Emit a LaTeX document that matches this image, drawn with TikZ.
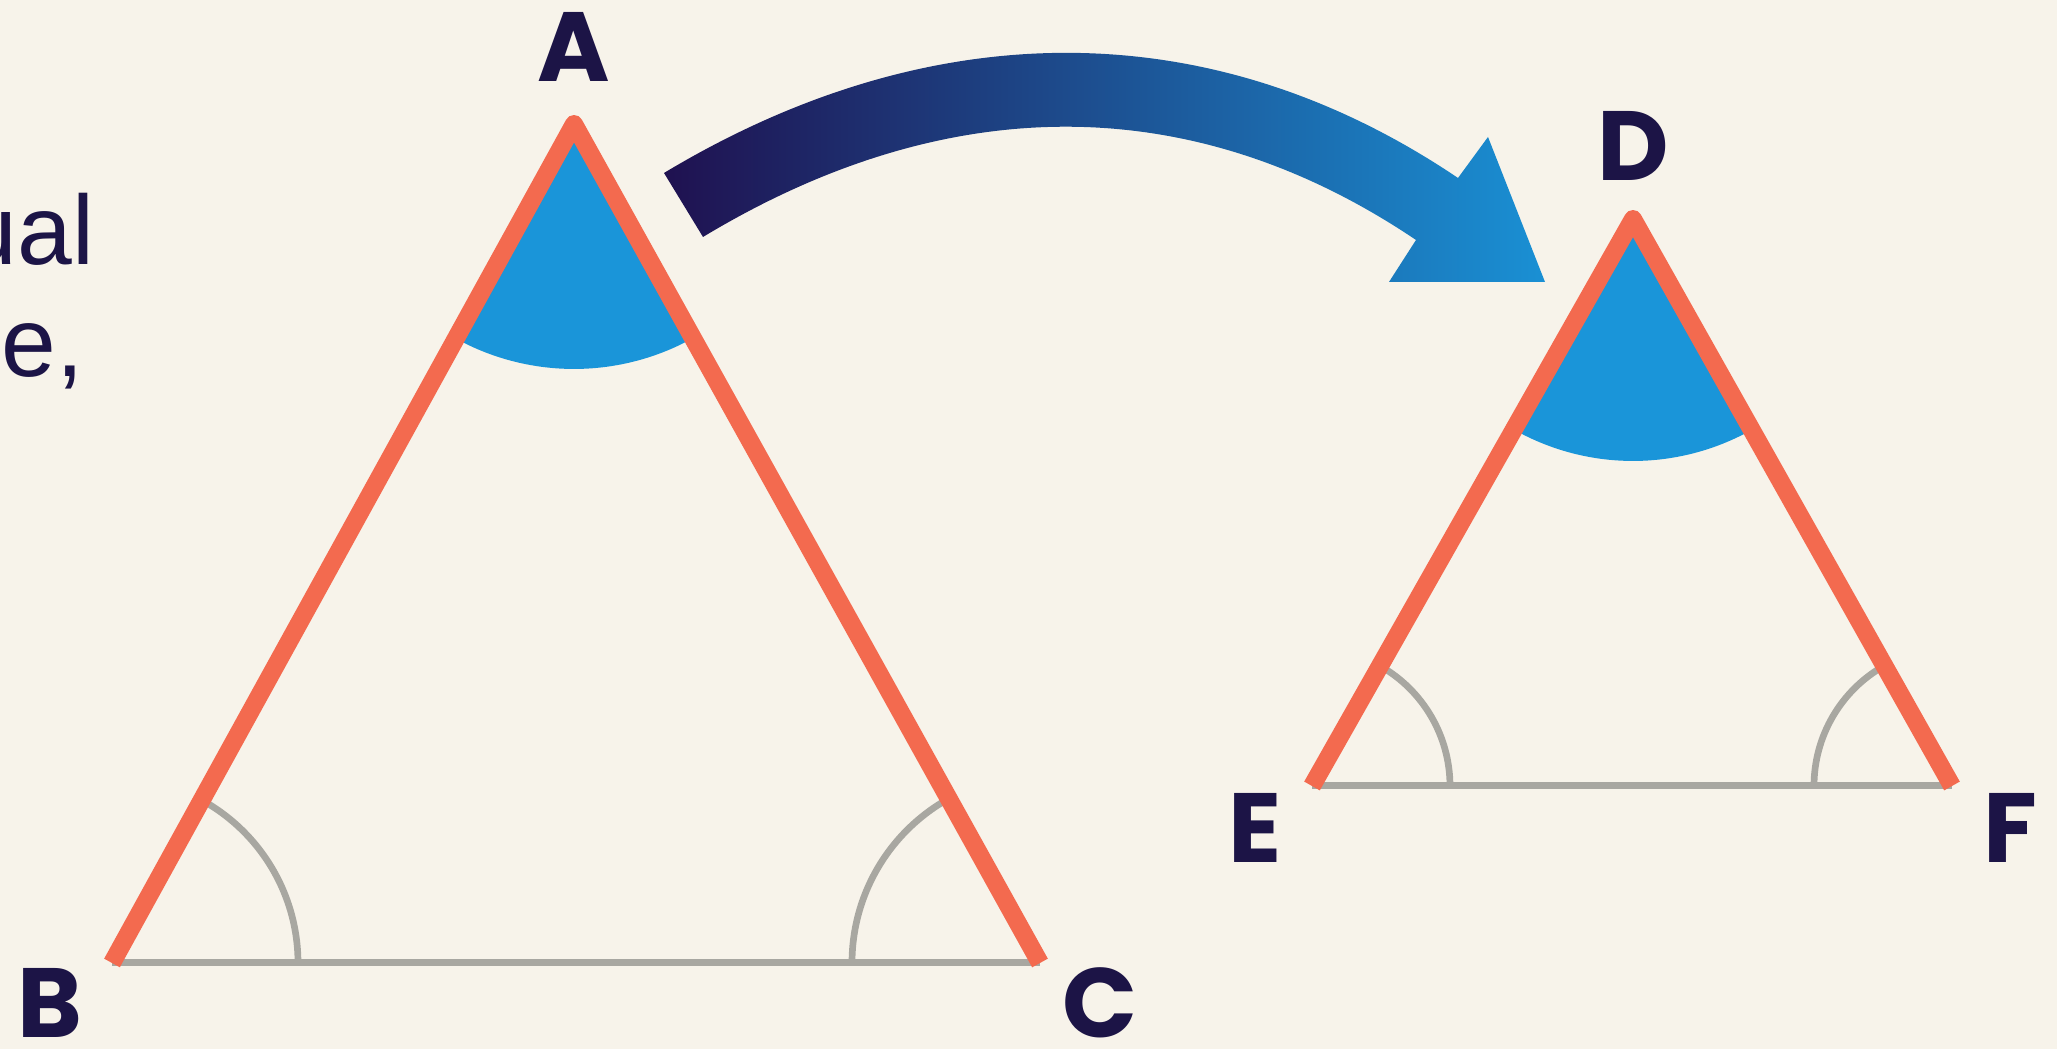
\documentclass[tikz,border=0pt]{standalone}
\usepackage{fontspec}
\setmainfont{Liberation Sans}
\newfontfamily\labelfont{Poppins}
\usepackage{xcolor}
\usepackage{tikz}

\definecolor{paper}{HTML}{F7F3EA}
\definecolor{sidered}{HTML}{F36A4F}
\definecolor{basegray}{HTML}{A8A7A1}
\definecolor{wedgeblue}{HTML}{1A95D9}
\definecolor{inkblue}{HTML}{1C1446}
\definecolor{arrowdark}{HTML}{1F1150}
\definecolor{arrowmid}{HTML}{1B4A86}
\definecolor{arrowlight}{HTML}{1A90D4}

\begin{document}
\begin{tikzpicture}[
    redside/.style={sidered, line width=5.1pt, line join=round},
    grayside/.style={basegray, line width=2pt},
    anglemark/.style={basegray, line width=1.9pt},
    bluewedge/.style={fill=wedgeblue},
    vlabel/.style={inkblue, font=\labelfont\bfseries\fontsize{28}{28}\selectfont, inner sep=0pt},
    note/.style={inkblue, font=\fontsize{28}{33}\selectfont, inner sep=0pt}
]
    % Leinwand
    \clip (0,0) rectangle (20.57,10.49);
    \fill[paper] (0,0) rectangle (20.57,10.49);
    % Ecken der beiden Dreiecke
    \coordinate (A) at (5.74,9.25);
    \coordinate (B) at (1.12,0.86);
    \coordinate (C) at (10.40,0.86);
    \coordinate (D) at (16.33,8.30);
    \coordinate (E) at (13.12,2.63);
    \coordinate (F) at (19.52,2.63);
    % gleiche Winkel oben
    \fill[bluewedge] (A) -- ++(241.2:2.45) arc[start angle=241.2, end angle=298.9, radius=2.45] -- cycle;
    \fill[bluewedge] (D) -- ++(240.6:2.42) arc[start angle=240.6, end angle=299.3, radius=2.42] -- cycle;
    % Grundseiten und Basiswinkel
    \draw[grayside] (B) -- (C);
    \draw[grayside] (E) -- (F);
    \draw[anglemark] (B) ++(0:1.86) arc[start angle=0, end angle=61.2, radius=1.86];
    \draw[anglemark] (C) ++(180:1.88) arc[start angle=180, end angle=118.9, radius=1.88];
    \draw[anglemark] (E) ++(0:1.38) arc[start angle=0, end angle=60.6, radius=1.38];
    \draw[anglemark] (F) ++(180:1.38) arc[start angle=180, end angle=119.3, radius=1.38];
    % Schenkel
    \draw[redside] (B) -- (A) -- (C);
    \draw[redside] (E) -- (D) -- (F);
    % Beschriftung
    \node[vlabel] (labA) at (5.74,10.02) {A};
    \node[vlabel] (labB) at (0.50,0.46) {B};
    \node[vlabel] (labC) at (11.00,0.46) {C};
    \node[vlabel] (labD) at (16.33,9.03) {D};
    \node[vlabel] (labE) at (12.55,2.21) {E};
    \node[vlabel] (labF) at (20.10,2.21) {F};
    \node[note, anchor=base east] (noteup) at (0.95,7.84) {ual};
    \node[note, anchor=base west] (notedown) at (0.01,6.72) {e,};
    % gebogener Pfeil von A nach D
    \coordinate (tailup) at (6.64,8.76);
    \coordinate (taillow) at (7.03,8.12);
    \coordinate (joinup) at (14.58,8.71);
    \coordinate (joinlow) at (14.16,8.09);
    \coordinate (headtop) at (14.88,9.12);
    \coordinate (headtip) at (15.45,7.67);
    \coordinate (headleft) at (13.89,7.67);
    \shade[left color=arrowdark, middle color=arrowmid, right color=arrowlight]
        (tailup) .. controls (9.25,10.33) and (12.06,10.41) .. (joinup)
        -- (headtop) -- (headtip) -- (headleft) -- (joinlow)
        .. controls (11.86,9.64) and (9.40,9.55) .. (taillow) -- cycle;
\end{tikzpicture}
\end{document}
